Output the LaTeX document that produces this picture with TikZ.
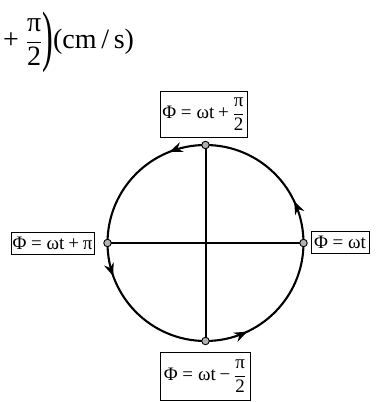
\documentclass[tikz,border=0pt]{standalone}
\usepackage{fontspec}
\setmainfont{Liberation Serif}
\usetikzlibrary{decorations.markings,arrows.meta}
\newcommand\tx[1]{\hbox{#1}}
\newcommand\Rl[1]{\mathrel{\hbox{#1}}}
\newcommand\Bn[1]{\mathbin{\hbox{#1}}}
\begin{document}
\begin{tikzpicture}[x=1pt,y=1pt,
  lab/.style={draw, line width=0.8pt, inner sep=1pt, font=\fontsize{19}{22}\selectfont},
  dot/.style={circle, draw, line width=0.9pt, fill=gray!60, inner sep=0pt, minimum size=7.5pt},
  axisline/.style={line width=2pt},
  circpath/.style={line width=2.1pt, postaction={decorate}, decoration={markings,
    mark=at position 0.07 with {\arrow{Stealth[length=13pt,width=10pt]}},
    mark=at position 0.31 with {\arrow{Stealth[length=13pt,width=10pt]}},
    mark=at position 0.555 with {\arrow{Stealth[length=13pt,width=10pt]}},
    mark=at position 0.82 with {\arrow{Stealth[length=13pt,width=10pt]}}}}]
\useasboundingbox (0,0) rectangle (386,-402);
\node[anchor=west, inner sep=0pt, font=\fontsize{28}{33}\selectfont] (eq) at (3,-42)
  {$\displaystyle\tx{+}\;\frac{\tx{π}}{\tx{2}}\vcenter{\hbox{\scalebox{1.15}[2.4]{)}}}\tx{(cm\,/\,s)}$};
\coordinate (c) at (205.5,-243);
\coordinate (N) at (205.5,-145);
\coordinate (S) at (205.5,-341);
\coordinate (W) at (107.5,-243);
\coordinate (E) at (303.5,-243);
\draw[circpath] (c) circle (98);
\draw[axisline] (N) -- (S);
\draw[axisline] (W) -- (E);
\node[dot] (dN) at (N) {};
\node[dot] (dS) at (S) {};
\node[dot] (dW) at (W) {};
\node[dot] (dE) at (E) {};
\node[lab, minimum width=87, minimum height=46] (top) at (203.5,-114)
  {$\displaystyle\tx{Φ}\Rl{=}\tx{ωt}\Bn{+}\frac{\tx{π}}{\tx{2}}$};
\node[lab, minimum width=83, minimum height=22] (left) at (52.5,-243)
  {$\tx{Φ}\Rl{=}\tx{ωt}\Bn{+}\tx{π}$};
\node[lab, minimum width=58, minimum height=22] (right) at (340,-242)
  {$\tx{Φ}\Rl{=}\tx{ωt}$};
\node[lab, minimum width=90, minimum height=48] (bot) at (205,-376)
  {$\displaystyle\tx{Φ}\Rl{=}\tx{ωt}\Bn{−}\frac{\tx{π}}{\tx{2}}$};
\end{tikzpicture}
\end{document}
